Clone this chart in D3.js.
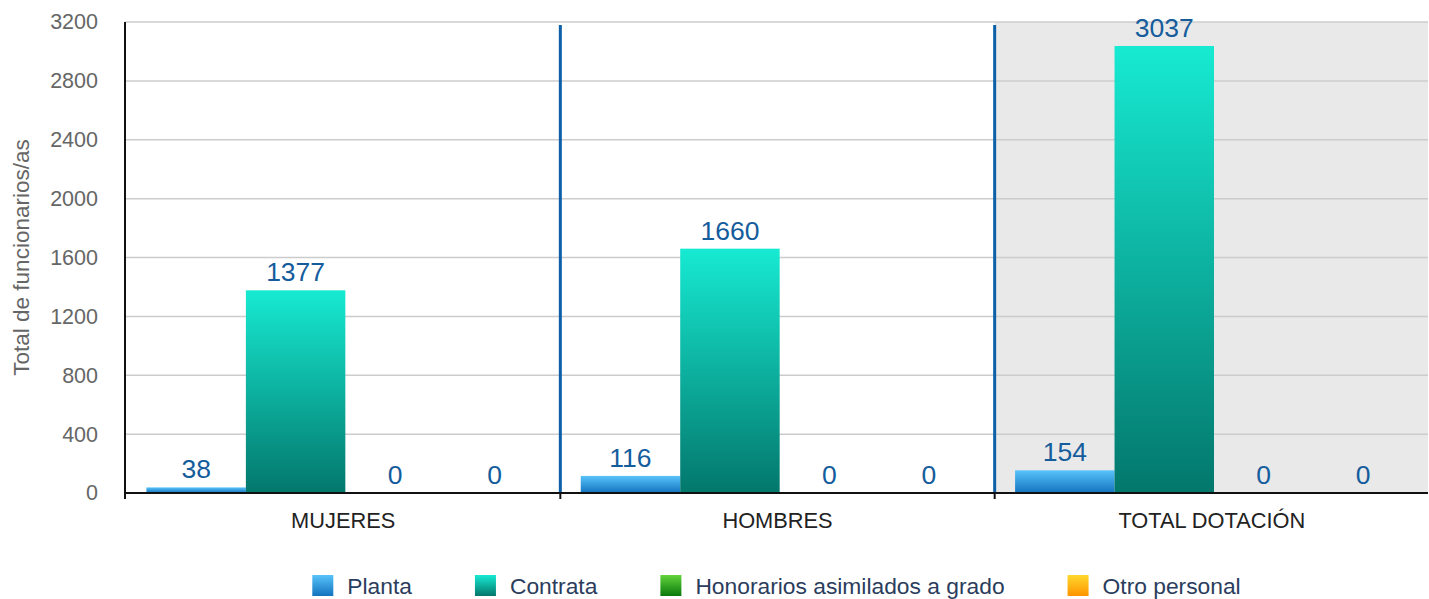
<!DOCTYPE html>
<html><head><meta charset="utf-8">
<script src="https://cdn.jsdelivr.net/npm/d3@7"></script>
<style>
html,body{margin:0;padding:0;background:#fff;}
svg{display:block;font-family:"Liberation Sans",Arial,Helvetica,sans-serif;}
</style></head>
<body>
<svg id="chart" width="1429" height="599"></svg>
<script>
const categories = ["MUJERES", "HOMBRES", "TOTAL DOTACIÓN"];
const seriesNames = ["Planta", "Contrata", "Honorarios asimilados a grado", "Otro personal"];
const planta = [38, 116, 154];
const contrata = [1377, 1660, 3037];
const honorarios = [0, 0, 0];
const otro = [0, 0, 0];
const yTicks = [0, 400, 800, 1200, 1600, 2000, 2400, 2800, 3200];
const yTitle = "Total de funcionarios/as";

const seriesValues = [planta, contrata, honorarios, otro];
const gradStops = [
  ["#58c3fb", "#1373be"],
  ["#17ead2", "#03776c"],
  ["#62d43c", "#0a780c"],
  ["#ffd82c", "#ff9400"]
];

const svg = d3.select("#chart");
const m = {left:125, right:1428, top:22, bottom:493};

const x0 = d3.scaleBand().domain(categories).range([m.left + 1, m.right + 1]).padding(0);
const bw = x0.bandwidth();
const x1 = d3.scaleBand().domain(seriesNames)
  .range([bw*0.047, bw*0.047 + bw*0.229*4]).padding(0);
const y = d3.scaleLinear().domain([0, 3200]).range([m.bottom, m.top]);

// gradients
const defs = svg.append("defs");
seriesNames.forEach((s,i)=>{
  const g = defs.append("linearGradient").attr("id","g"+i)
    .attr("x1",0).attr("y1",0).attr("x2",0).attr("y2",1);
  g.append("stop").attr("offset","0%").attr("stop-color",gradStops[i][0]);
  g.append("stop").attr("offset","100%").attr("stop-color",gradStops[i][1]);
});

// highlighted background for last group
svg.append("rect")
  .attr("x", x0(categories[2])).attr("y", m.top)
  .attr("width", m.right - x0(categories[2])).attr("height", m.bottom - m.top)
  .attr("fill", "#e9e9e9");

// gridlines
svg.append("g").selectAll("line").data(yTicks.filter(d=>d>0)).join("line")
  .attr("x1", m.left).attr("x2", m.right)
  .attr("y1", d=>y(d)).attr("y2", d=>y(d))
  .attr("stroke", "#cccccc").attr("stroke-width", 1.5);

// y tick labels
const yAxis = d3.axisLeft(y).tickValues(yTicks).tickFormat(d3.format("d")).tickSize(0).tickPadding(27);
const ya = svg.append("g").attr("transform",`translate(${m.left},0)`).call(yAxis);
ya.select(".domain").remove();
ya.selectAll("text").attr("font-size", 21.5).attr("fill", "#666")
  .attr("font-family", '"Liberation Sans",Arial,sans-serif');

// y title
svg.append("text")
  .attr("transform", `translate(29,${(m.top+m.bottom)/2}) rotate(-90)`)
  .attr("text-anchor","middle").attr("font-size", 22.5).attr("fill","#666")
  .text(yTitle);

// bars
const groups = svg.append("g").selectAll("g").data(categories).join("g")
  .attr("transform", d=>`translate(${x0(d)},0)`);
groups.each(function(cat, ci){
  const g = d3.select(this);
  seriesNames.forEach((s, si)=>{
    const v = seriesValues[si][ci];
    if (v > 0) {
      g.append("rect")
        .attr("x", x1(s)).attr("width", x1.bandwidth())
        .attr("y", y(v)).attr("height", y(0) - y(v))
        .attr("fill", `url(#g${si})`);
    }
    g.append("text")
      .attr("x", x1(s) + x1.bandwidth()/2)
      .attr("y", y(v) - 9)
      .attr("text-anchor","middle").attr("font-size", 26.5).attr("fill","#145c9c")
      .text(v);
  });
});

// separators
svg.append("g").selectAll("line").data(categories.slice(1)).join("line")
  .attr("x1", d=>x0(d)).attr("x2", d=>x0(d))
  .attr("y1", m.top + 3).attr("y2", m.bottom)
  .attr("stroke", "#0d60a8").attr("stroke-width", 3);

// x axis
const xAxis = d3.axisBottom(x0).tickSize(0).tickPadding(20);
const xa = svg.append("g").attr("transform",`translate(0,${m.bottom})`).call(xAxis);
xa.select(".domain").remove();
xa.selectAll("text").attr("font-size", 21.8).attr("fill","#222")
  .attr("font-family", '"Liberation Sans",Arial,sans-serif');
svg.append("line").attr("x1", m.left).attr("x2", m.right)
  .attr("y1", m.bottom).attr("y2", m.bottom).attr("stroke","#111").attr("stroke-width",2);
svg.append("g").selectAll("line").data([m.left, ...categories.slice(1).map(d=>x0(d))]).join("line")
  .attr("x1", d=>d).attr("x2", d=>d).attr("y1", m.bottom).attr("y2", m.bottom+6)
  .attr("stroke","#111").attr("stroke-width",2);
// y axis line
svg.append("line").attr("x1", m.left).attr("x2", m.left)
  .attr("y1", m.top).attr("y2", m.bottom+6).attr("stroke","#111").attr("stroke-width",2);

// legend
const leg = svg.append("g");
let cx = 0;
seriesNames.forEach((s,i)=>{
  const it = leg.append("g");
  it.append("rect").attr("x",0).attr("y",575).attr("width",21).attr("height",21)
    .attr("fill", `url(#g${i})`);
  const t = it.append("text").attr("x",35).attr("y",594).attr("font-size",22.8)
    .attr("fill","#2b3d5c").text(s);
  const w = 35 + t.node().getComputedTextLength();
  it.attr("transform", `translate(${cx},0)`);
  cx += w + 63;
});
const total = cx - 63;
leg.attr("transform", `translate(${(m.left+m.right)/2 - total/2},0)`);
</script>
</body></html>
